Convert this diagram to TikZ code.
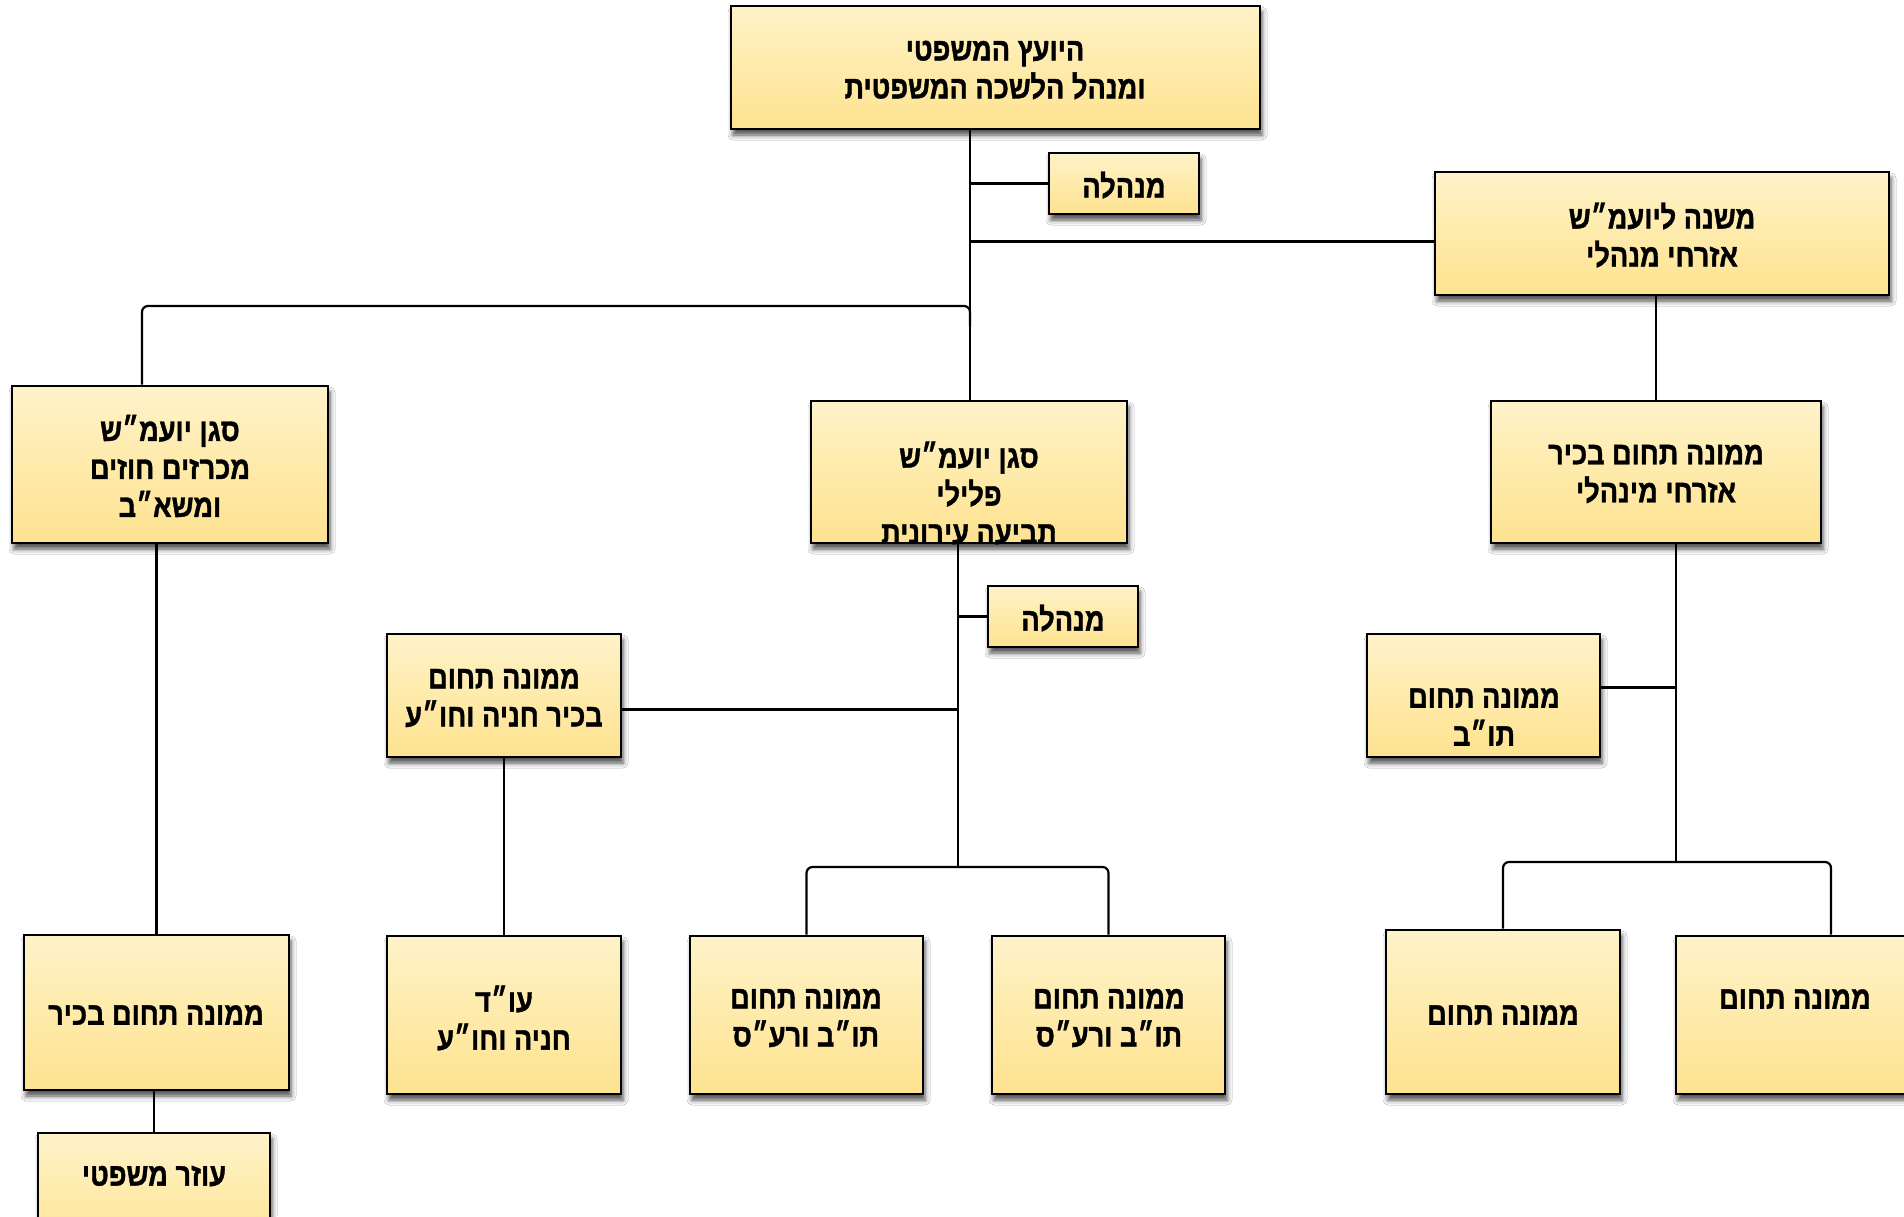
\documentclass[tikz,border=0pt]{standalone}
\usepackage{fontspec}
\newfontfamily\heb[Script=Hebrew, FakeStretch=0.85, BoldFeatures={FakeBold=1.2}]{Liberation Sans}
\TeXXeTstate=1
\usetikzlibrary{shadows.blur}
\definecolor{ytop}{RGB}{255,250,236}
\definecolor{ymid}{RGB}{254,236,176}
\definecolor{ybot}{RGB}{253,222,130}
\definecolor{ybot2}{RGB}{253,230,155}
\pgfdeclareverticalshading{boxgrad}{100bp}{color(0bp)=(ybot2); color(12bp)=(ybot); color(55bp)=(ymid); color(100bp)=(ytop)}
\newcommand\rl[1]{\beginR #1\endR}
\newcommand\bbox[5]{\node[orgbox, minimum width={(#4-#2)*0.5pt}, minimum height={(#5-#3)*0.5pt}] (#1) at ({(#2+#4)/2},{(#3+#5)/2}) {};}
\tikzset{
  orgbox/.style={draw=black, line width=1.4pt, shading=boxgrad, inner sep=0pt,
    blur shadow={shadow xshift=1pt, shadow yshift=-3pt, shadow blur radius=2.5pt, shadow opacity=70}},
  txt/.style={font=\heb\bfseries\fontsize{16}{19}\selectfont, align=center, inner sep=0pt},
  conn/.style={draw=black, line width=1.1pt}
}
\begin{document}
\begin{tikzpicture}[x=0.5pt, y=-0.5pt]
\useasboundingbox (0,0) rectangle (1904,1216);
\clip (0,0) rectangle (1904,1216);
\fill[white] (0,0) rectangle (1904,1216);
% boxes
\bbox{top}{731}{6}{1260}{129}
\bbox{men1}{1049}{153}{1199}{214}
\bbox{mishne}{1435}{172}{1889}{295}
\bbox{lsgan}{12}{386}{328}{543}
\bbox{msgan}{811}{401}{1127}{543}
\bbox{rbox}{1491}{401}{1821}{543}
\bbox{men2}{988}{586}{1138}{647}
\bbox{hania}{387}{634}{621}{757}
\bbox{tb}{1367}{634}{1600}{757}
\bbox{lbot}{24}{935}{289}{1090}
\bbox{oozer}{38}{1133}{270}{1260}
\bbox{oud}{387}{936}{621}{1094}
\bbox{tovA}{690}{936}{923}{1094}
\bbox{tovB}{992}{936}{1225}{1094}
\bbox{mma}{1386}{930}{1620}{1094}
\bbox{mmb}{1676}{936}{1986}{1094}
% connectors
\coordinate (tr) at (970,306);
\coordinate (lj) at (142,306);
\draw[conn] (top.south -| tr) -- (msgan.north -| tr);
\draw[conn] (men1.west) -- (men1.west -| tr);
\draw[conn] ([yshift=-4pt]mishne.west) -- ([yshift=-4pt]mishne.west -| tr);
\draw[conn, rounded corners=3pt] (lsgan.north -| lj) -- (lj) -- (tr) -- ++(0,20);
\draw[conn] (mishne.south -| rbox.north) -- (rbox.north);
\draw[conn] (lbot.north |- lsgan.south) -- (lbot.north);
\draw[conn] (oozer.north |- lbot.south) -- (oozer.north);
\coordinate (mj) at (958,867);
\draw[conn] (msgan.south -| mj) -- (mj);
\draw[conn] (men2.west) -- (men2.west -| mj);
\draw[conn] ([yshift=-7pt]hania.east) -- ([yshift=-7pt]hania.east -| mj);
\draw[conn] (hania.south) -- (oud.north);
\draw[conn, rounded corners=3pt] (tovA.north) |- (mj) -| (tovB.north);
\coordinate (rj) at (1676,862);
\draw[conn] (rbox.south -| rj) -- (rj);
\draw[conn] ([yshift=4pt]tb.east) -- ([yshift=4pt]tb.east -| rj);
\draw[conn, rounded corners=3pt] (mma.north) |- (rj) -| (mmb.north);
% texts
\node[txt] (ttop) at (995,70) {\rl{היועץ המשפטי}\\\rl{ומנהל הלשכה המשפטית}};
\node[txt] (tmen1) at (1124,185) {\rl{מנהלה}};
\node[txt] (tmishne) at (1662,235) {\rl{משנה ליועמ״ש}\\\rl{אזרחי מנהלי}};
\node[txt] (tlsgan) at (170,466) {\rl{סגן יועמ״ש}\\\rl{מכרזים חוזים}\\\rl{ומשא״ב}};
\node[txt] (tmsgan) at (969,493) {\rl{סגן יועמ״ש}\\\rl{פלילי}\\\rl{תביעה עירונית}};
\node[txt] (trbox) at (1656,474) {\rl{ממונה תחום בכיר}\\\rl{אזרחי מינהלי}};
\node[txt] (tmen2) at (1063,618) {\rl{מנהלה}};
\node[txt] (thania) at (504,698) {\rl{ממונה תחום}\\\rl{בכיר חניה וחו״ע}};
\node[txt] (ttb) at (1484,717) {\rl{ממונה תחום}\\\rl{תו״ב}};
\node[txt] (tlbot) at (156,1015) {\rl{ממונה תחום בכיר}};
\node[txt] (toozer) at (154,1176) {\rl{עוזר משפטי}};
\node[txt] (toud) at (504,1018) {\rl{עו״ד}\\\rl{חניה וחו״ע}};
\node[txt] (ttovA) at (806,1018) {\rl{ממונה תחום}\\\rl{תו״ב ורע״ס}};
\node[txt] (ttovB) at (1109,1018) {\rl{ממונה תחום}\\\rl{תו״ב ורע״ס}};
\node[txt] (tmma) at (1503,1015) {\rl{ממונה תחום}};
\node[txt] (tmmb) at (1795,999) {\rl{ממונה תחום}};
\end{tikzpicture}
\end{document}
